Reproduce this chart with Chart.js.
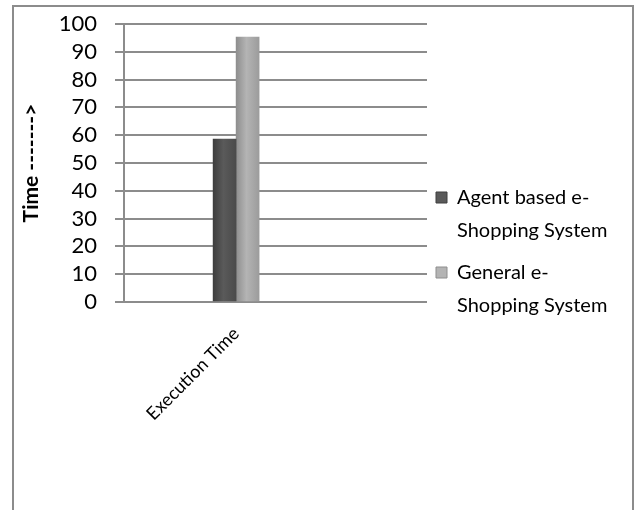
<!DOCTYPE html>
<html>
<head>
<meta charset="utf-8">
<script src="https://cdn.jsdelivr.net/npm/chart.js@4/dist/chart.umd.min.js"></script>
<style>
  html, body { margin: 0; padding: 0; background: #fff; }
  #wrap { position: relative; width: 642px; height: 510px; overflow: hidden; }
  #frame { position: absolute; left: 12px; top: 5px; width: 618px; height: 600px; border: 2px solid #8c8c8c; pointer-events: none; }
  canvas { position: absolute; left: 0; top: 0; }
</style>
</head>
<body>
<div id="wrap">
  <canvas id="c" width="642" height="510"></canvas>
  <div id="frame"></div>
</div>
<script>
const categories = ['Execution Time'];
const seriesNames = ['Agent based e-Shopping System', 'General e-Shopping System'];
const legendLines = [['Agent based e-', 'Shopping System'], ['General e-', 'Shopping System']];
const agentValues = [58.6];
const generalValues = [95.3];
const yTicks = [0, 10, 20, 30, 40, 50, 60, 70, 80, 90, 100];
const yTitle = 'Time ------->';

const toPoints = vals => vals.map((v, i) => ({ x: i, y: v }));
const grid = '#8c8c8c';
const BAR = 23;
const LEGEND_WIDTH = 215;
const shades = [
  ['#3e3e3e', '#5a5a5a', '#4a4a4a'],
  ['#8e8e8e', '#b4b4b4', '#9c9c9c']
];

function barFill(dsIndex) {
  return ctx => {
    const chart = ctx.chart;
    const xs = chart.scales.x;
    if (!xs || ctx.parsed === undefined || !chart.chartArea) return shades[dsIndex][1];
    const center = xs.getPixelForValue(ctx.parsed.x);
    const left = center - BAR + dsIndex * BAR;
    const g = chart.ctx.createLinearGradient(left, 0, left + BAR, 0);
    g.addColorStop(0, shades[dsIndex][0]);
    g.addColorStop(0.45, shades[dsIndex][1]);
    g.addColorStop(1, shades[dsIndex][2]);
    return g;
  };
}

const legendWidthPlugin = {
  id: 'legendWidth',
  beforeLayout(chart) {
    const lg = chart.legend;
    if (lg && !lg._patchedFit) {
      const orig = lg.fit;
      lg.fit = function () { orig.call(this); this.width = LEGEND_WIDTH; };
      lg._patchedFit = true;
    }
  }
};

new Chart(document.getElementById('c'), {
  type: 'bar',
  data: {
    datasets: [
      { label: seriesNames[0], data: toPoints(agentValues), backgroundColor: barFill(0), borderWidth: 0, barThickness: BAR },
      { label: seriesNames[1], data: toPoints(generalValues), backgroundColor: barFill(1), borderWidth: 0, barThickness: BAR }
    ]
  },
  plugins: [legendWidthPlugin],
  options: {
    responsive: false,
    animation: false,
    layout: { padding: { left: 13, top: 24, right: 0, bottom: 18 } },
    plugins: {
      tooltip: { enabled: false },
      legend: {
        position: 'right',
        align: 'center',
        labels: {
          boxWidth: 11, boxHeight: 11, padding: 9, color: '#000',
          font: { family: 'Lato', size: 20, lineHeight: 1.65 },
          generateLabels: chart => chart.data.datasets.map((ds, i) => ({
            text: legendLines[i], fillStyle: shades[i][1], strokeStyle: shades[i][0],
            lineWidth: 1, hidden: false, datasetIndex: i
          }))
        }
      }
    },
    scales: {
      x: {
        type: 'linear',
        offset: false,
        min: -0.37, max: 0.63,
        grid: { display: false },
        border: { display: false },
        afterBuildTicks: s => { s.ticks = categories.map((c, i) => ({ value: i })); },
        afterFit: s => { s.height = 190; s.paddingLeft = 0; s.paddingRight = 0; },
        ticks: {
          minRotation: 45, maxRotation: 45, padding: 13, color: '#000',
          font: { family: 'Lato', size: 18 },
          callback: v => categories[v] ?? ''
        }
      },
      y: {
        min: 0, max: 100,
        afterBuildTicks: s => { s.ticks = yTicks.map(v => ({ value: v })); },
        afterFit: s => { s.width = 111; s.paddingTop = 0; s.paddingBottom = 0; },
        grid: { color: grid, lineWidth: 2, tickLength: 9, tickColor: grid },
        border: { color: grid, width: 2 },
        ticks: { autoSkip: false, padding: 18, color: '#000', font: { family: 'Lato', size: 22 } },
        title: { display: true, text: yTitle, color: '#000', padding: { top: 6 }, font: { family: 'Lato', size: 21, weight: 'bold' } }
      }
    }
  }
});
</script>
</body>
</html>
